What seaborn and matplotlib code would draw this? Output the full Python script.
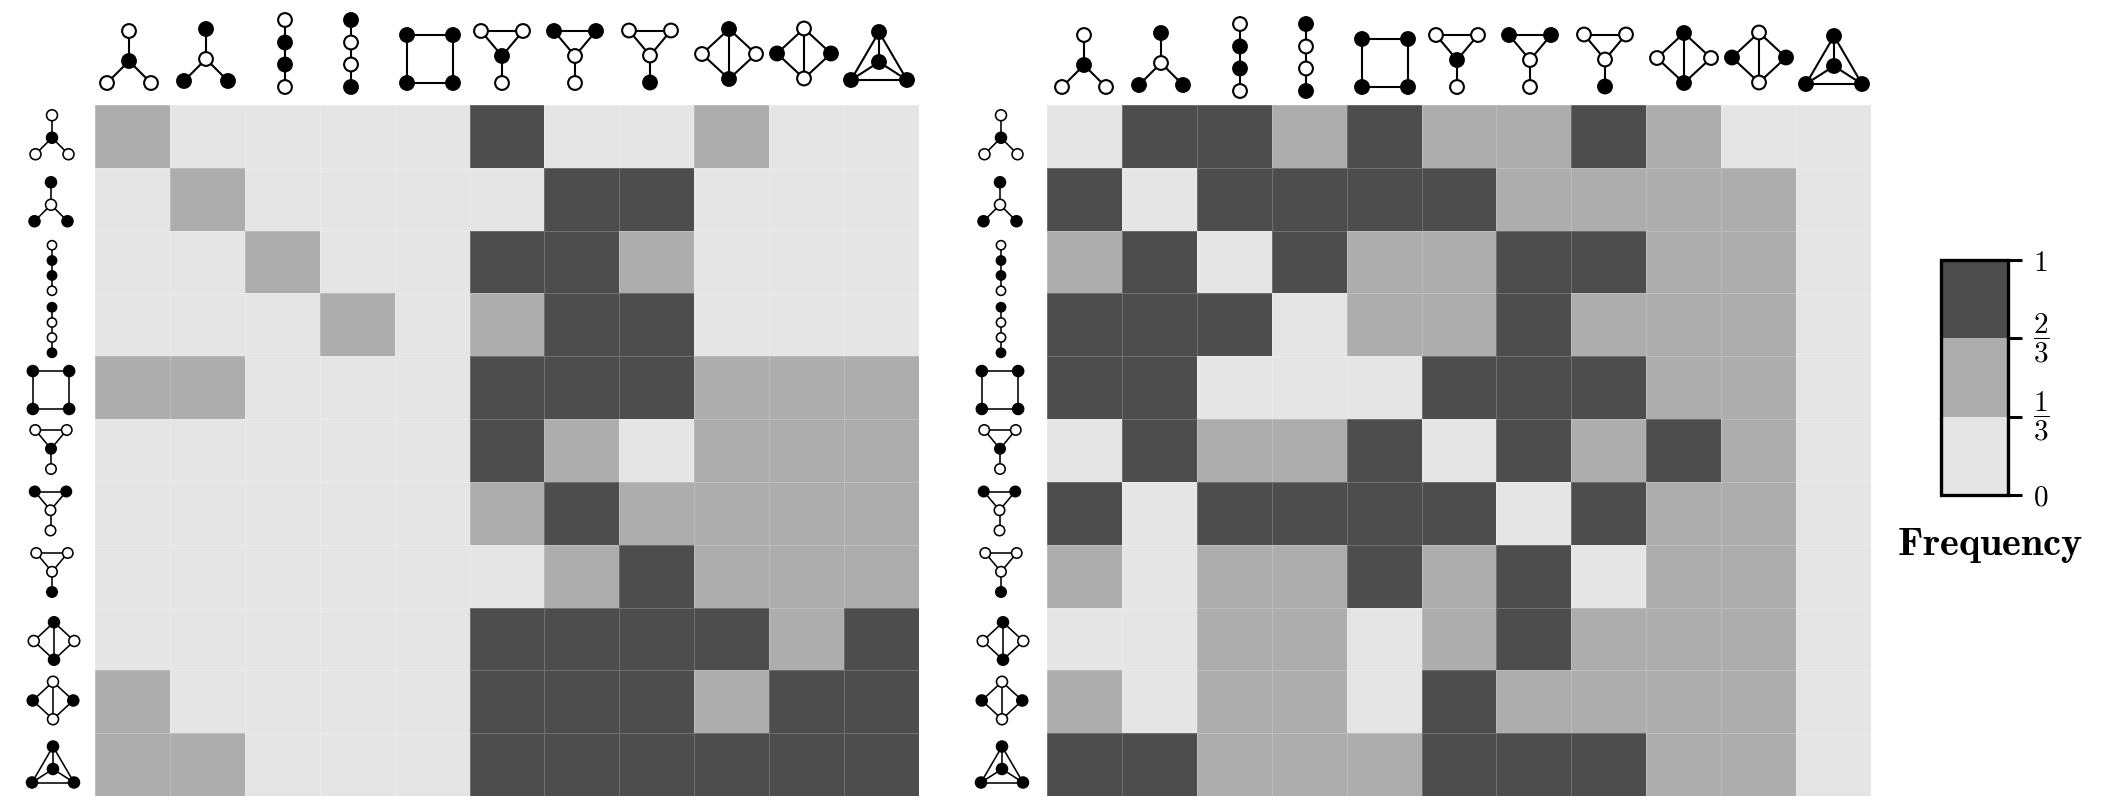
import numpy as np
import seaborn as sns
import matplotlib.pyplot as plt
from matplotlib.colors import ListedColormap

plt.rcParams['mathtext.fontset'] = 'cm'

# frequency bins: 0 -> [0, 1/3), 1 -> [1/3, 2/3), 2 -> [2/3, 1]
left_bins = [
    [1, 0, 0, 0, 0, 2, 0, 0, 1, 0, 0],
    [0, 1, 0, 0, 0, 0, 2, 2, 0, 0, 0],
    [0, 0, 1, 0, 0, 2, 2, 1, 0, 0, 0],
    [0, 0, 0, 1, 0, 1, 2, 2, 0, 0, 0],
    [1, 1, 0, 0, 0, 2, 2, 2, 1, 1, 1],
    [0, 0, 0, 0, 0, 2, 1, 0, 1, 1, 1],
    [0, 0, 0, 0, 0, 1, 2, 1, 1, 1, 1],
    [0, 0, 0, 0, 0, 0, 1, 2, 1, 1, 1],
    [0, 0, 0, 0, 0, 2, 2, 2, 2, 1, 2],
    [1, 0, 0, 0, 0, 2, 2, 2, 1, 2, 2],
    [1, 1, 0, 0, 0, 2, 2, 2, 2, 2, 2],
]
right_bins = [
    [0, 2, 2, 1, 2, 1, 1, 2, 1, 0, 0],
    [2, 0, 2, 2, 2, 2, 1, 1, 1, 1, 0],
    [1, 2, 0, 2, 1, 1, 2, 2, 1, 1, 0],
    [2, 2, 2, 0, 1, 1, 2, 1, 1, 1, 0],
    [2, 2, 0, 0, 0, 2, 2, 2, 1, 1, 0],
    [0, 2, 1, 1, 2, 0, 2, 1, 2, 1, 0],
    [2, 0, 2, 2, 2, 2, 0, 2, 1, 1, 0],
    [1, 0, 1, 1, 2, 1, 2, 0, 1, 1, 0],
    [0, 0, 1, 1, 0, 1, 2, 1, 1, 1, 0],
    [1, 0, 1, 1, 0, 2, 1, 1, 1, 1, 0],
    [2, 2, 1, 1, 1, 2, 2, 2, 1, 1, 0],
]
bin_colors = ['#e5e5e5', '#adadad', '#4d4d4d']
cbar_ticks = [0, 1 / 3, 2 / 3, 1]
cbar_labels = ['$0$', r'$\dfrac{1}{3}$', r'$\dfrac{2}{3}$', '$1$']

# motif shapes in pixels around the glyph centre: nodes, edges, filled nodes
star = [(0, -31), (-22, 21), (22, 21), (0, -1)]
path = [(0, -33.5), (0, -11), (0, 11), (0, 33.5)]
square = [(-23, -24), (23, -24), (23, 24), (-23, 24)]
paw = [(-21, -26), (21, -26), (0, -1), (0, 26)]
diamond = [(0, -25), (-27, 0), (27, 0), (0, 25)]
tetra = [(0, -30), (-28, 18), (28, 18), (0, 0)]
star_e = [(0, 3), (1, 3), (2, 3)]
path_e = [(0, 1), (1, 2), (2, 3)]
square_e = [(0, 1), (1, 2), (2, 3), (3, 0)]
paw_e = [(0, 1), (0, 2), (1, 2), (2, 3)]
diamond_e = [(0, 1), (0, 2), (0, 3), (1, 3), (2, 3)]
tetra_e = [(0, 1), (0, 2), (0, 3), (1, 2), (1, 3), (2, 3)]
motifs = [
    (star, star_e, [3]),
    (star, star_e, [0, 1, 2]),
    (path, path_e, [1, 2]),
    (path, path_e, [0, 3]),
    (square, square_e, [0, 1, 2, 3]),
    (paw, paw_e, [2]),
    (paw, paw_e, [0, 1]),
    (paw, paw_e, [3]),
    (diamond, diamond_e, [0, 3]),
    (diamond, diamond_e, [1, 2]),
    (tetra, tetra_e, [0, 1, 2, 3]),
]
# hand placed glyphs, they are not quite on a grid in the original
top_x = [129, 206, 285, 351, 430, 502, 575, 650, 729, 804, 879]
top_y = [62, 60, 53.5, 53.5, 59, 57, 57, 56.5, 54, 53.5, 62]
row_x = [52, 51, 52, 52, 51, 51, 50.5, 52, 54, 53, 53]
row_y = [138.5, 205.5, 268, 330, 390, 449.5, 511, 572.5, 641, 700.5, 769]
row_scale = [0.75, 0.75, 0.68, 0.68, 0.79, 0.75, 0.75, 0.75, 0.75, 0.75, 0.75]
row_size = [62, 62, 44, 44, 62, 56, 56, 56, 62, 62, 62]


def px_axes(fig, x0, y0, x1, y1):
    W, H = fig.canvas.get_width_height()
    return fig.add_axes([x0 / W, 1 - y1 / H, (x1 - x0) / W, (y1 - y0) / H])


def draw_motif(ax, motif, cx, cy, scale, lw, size):
    nodes, edges, filled = motif
    xy = np.array(nodes) * scale + [cx, cy]
    for a, b in edges:
        ax.plot(xy[[a, b], 0], xy[[a, b], 1], color='black', lw=lw, zorder=2, solid_capstyle='butt')
    colors = ['black' if i in filled else 'white' for i in range(len(xy))]
    ax.scatter(xy[:, 0], xy[:, 1], s=size, c=colors, edgecolors='black', linewidths=lw, zorder=3)


fig = plt.figure(figsize=(21.08, 8.06), dpi=100)
cmap = ListedColormap(bin_colors)

ax_left = px_axes(fig, 95, 105, 919, 796)
ax_right = px_axes(fig, 1047, 105, 1871, 796)
ax_cbar = px_axes(fig, 1941, 260, 2008, 495)

grid = dict(cmap=cmap, vmin=0, vmax=1, linewidths=0.7, linecolor=(1, 1, 1, 0.2),
            xticklabels=False, yticklabels=False)
sns.heatmap((np.array(left_bins) + 0.5) / 3, ax=ax_left, cbar=False, **grid)
sns.heatmap((np.array(right_bins) + 0.5) / 3, ax=ax_right, cbar_ax=ax_cbar,
            cbar_kws={'ticks': cbar_ticks}, **grid)

cbar = ax_right.collections[0].colorbar
cbar.set_ticklabels(cbar_labels)
cbar.ax.tick_params(length=10, width=2.2, labelsize=21, pad=8)
cbar.outline.set_visible(True)
cbar.outline.set_linewidth(2.4)
cbar.outline.set_edgecolor('black')
for label in cbar.ax.get_yticklabels()[1:3]:
    label.set_fontsize(21)
    label.set_verticalalignment('center')

# overlay in pixel coordinates for the motif glyphs
overlay = fig.add_axes([0, 0, 1, 1], zorder=5)
overlay.set_xlim(0, 2108)
overlay.set_ylim(806, 0)
overlay.axis('off')

for i, motif in enumerate(motifs):
    draw_motif(overlay, motif, top_x[i], top_y[i], 1.0, 1.5, 98)
    draw_motif(overlay, motif, top_x[i] + 955, top_y[i] + 4, 1.0, 1.5, 98)
    draw_motif(overlay, motif, row_x[i], row_y[i], row_scale[i], 1.15, row_size[i])
    draw_motif(overlay, motif, row_x[i] + 949, row_y[i], row_scale[i], 1.15, row_size[i])

overlay.text(1990, 545, r'$\mathbf{Frequency}$', fontsize=29, ha='center', va='center')

fig.savefig('out.png', dpi=100)
